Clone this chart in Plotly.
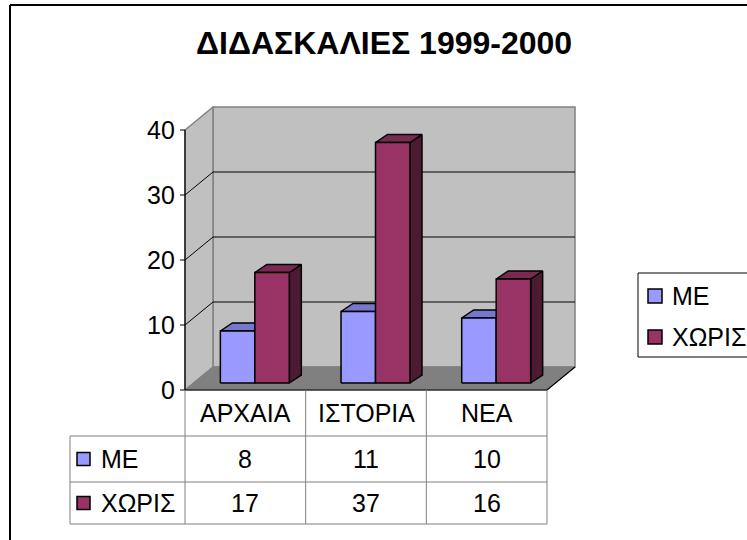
import plotly.graph_objects as go

# ---------------- data ----------------
categories = ["ΑΡΧΑΙΑ", "ΙΣΤΟΡΙΑ", "ΝΕΑ"]
series_names = ["ΜΕ", "ΧΩΡΙΣ"]
me_values = [8, 11, 10]
xoris_values = [17, 37, 16]
y_ticks = [0, 10, 20, 30, 40]
title_text = "ΔΙΔΑΣΚΑΛΙΕΣ 1999-2000"

series_values = [me_values, xoris_values]

# ---------------- styles / geometry ----------------
W, H = 747, 540
FONT = "Liberation Sans, Arial, sans-serif"
FS = 25
AX_LEFT_PX, AX_BOTTOM_PX = 185, 390     # front-plane origin in pixels
CAT_PX = 120.67                          # pixels per category
UNIT_PX = 6.5                            # pixels per value unit
WALL_DX_PX, WALL_DY_PX = 28, 23          # depth of the 3D box
BAR_OFF_DX_PX, BAR_OFF_DY_PX = 9.5, 7    # bars set back from front plane
BAR_DEP_DX_PX, BAR_DEP_DY_PX = 12, 8     # bar depth
GAP = 1.5                                # gap width 150 %

front_colors = ["#9999FF", "#993366"]
top_colors = ["#7777CC", "#7A2952"]
side_colors = ["#5C5C99", "#4D1A33"]
WALL = "#C0C0C0"
FLOOR = "#808080"
EDGE = "#808080"

ncat = len(categories)
ymax = max(y_ticks)

DX = WALL_DX_PX / CAT_PX
DY = WALL_DY_PX / UNIT_PX
BX = BAR_OFF_DX_PX / CAT_PX
BY = BAR_OFF_DY_PX / UNIT_PX
BDX = BAR_DEP_DX_PX / CAT_PX
BDY = BAR_DEP_DY_PX / UNIT_PX


def px2x(px):
    return (px - AX_LEFT_PX) / CAT_PX


def px2y(py):
    return (AX_BOTTOM_PX - py) / UNIT_PX


fig = go.Figure()


def poly(xs, ys, fill, line_color, lw=1.0):
    fig.add_trace(go.Scatter(
        x=list(xs) + [xs[0]], y=list(ys) + [ys[0]], mode="lines",
        fill="toself", fillcolor=fill,
        line=dict(color=line_color, width=lw),
        hoverinfo="skip", showlegend=False))


def line(xs, ys, color, lw=1.0):
    fig.add_trace(go.Scatter(
        x=list(xs), y=list(ys), mode="lines",
        line=dict(color=color, width=lw),
        hoverinfo="skip", showlegend=False))


# walls and floor
poly([DX, ncat + DX, ncat + DX, DX], [DY, DY, ymax + DY, ymax + DY], WALL, EDGE, 1.5)
poly([0, DX, DX, 0], [0, DY, ymax + DY, ymax], WALL, EDGE, 1.5)
poly([0, ncat, ncat + DX, DX], [0, 0, DY, DY], FLOOR, FLOOR, 1)
line([0, ncat, ncat + DX], [0, 0, DY], "black", 1.2)

# gridlines
for t in y_ticks:
    if 0 < t < ymax:
        line([0, DX, ncat + DX], [t, t + DY, t + DY], "black", 1)

# value axis + ticks
line([0, 0], [0, ymax], "black", 1.2)
for t in y_ticks:
    line([-5 / CAT_PX, 0], [t, t], "black", 1)
    fig.add_annotation(x=-8 / CAT_PX, y=t, xref="x", yref="y", text=str(t),
                       showarrow=False, xanchor="right", yanchor="middle",
                       font=dict(family=FONT, size=FS, color="black"))

# bars
bw = 1.0 / (len(series_values) + GAP)
for i in range(ncat):
    start = i + GAP * bw / 2
    for s, vals in enumerate(series_values):
        v = vals[i]
        x0 = start + s * bw + BX
        x1 = x0 + bw
        y0 = BY
        y1 = v + BY
        # side
        poly([x1, x1 + BDX, x1 + BDX, x1], [y0, y0 + BDY, y1 + BDY, y1],
             side_colors[s], "black", 1.5)
        # top
        poly([x0, x1, x1 + BDX, x0 + BDX], [y1, y1, y1 + BDY, y1 + BDY],
             top_colors[s], "black", 1.5)
        # front
        poly([x0, x1, x1, x0], [y0, y0, y1, y1], front_colors[s], "black", 1.5)

# ---------------- data table ----------------
TBL_LEFT_PX = 70
ROW_Y_PX = [390, 436, 482, 524]
TBL_LINE = "#808080"
shapes = []


def pshape(x0, y0, x1, y1, **kw):
    d = dict(type=kw.pop("type", "line"), xref="paper", yref="paper",
             x0=x0 / W, x1=x1 / W, y0=1 - y0 / H, y1=1 - y1 / H)
    d.update(kw)
    shapes.append(d)


def ptext(xp, yp, text, size=FS, xanchor="center", bold=False):
    fig.add_annotation(x=xp / W, y=1 - yp / H, xref="paper", yref="paper",
                       text=("<b>%s</b>" % text) if bold else text,
                       showarrow=False, xanchor=xanchor, yanchor="middle",
                       font=dict(family=FONT, size=size, color="black"))


right_px = AX_LEFT_PX + ncat * CAT_PX
for k in range(ncat + 1):
    xp = AX_LEFT_PX + k * CAT_PX
    pshape(xp, ROW_Y_PX[0], xp, ROW_Y_PX[-1], line=dict(color=TBL_LINE, width=1))
pshape(TBL_LEFT_PX, ROW_Y_PX[1], TBL_LEFT_PX, ROW_Y_PX[-1], line=dict(color=TBL_LINE, width=1))
for yp in ROW_Y_PX[1:]:
    pshape(TBL_LEFT_PX, yp, right_px, yp, line=dict(color=TBL_LINE, width=1))

for i, c in enumerate(categories):
    fig.add_annotation(x=i + 0.5, y=px2y((ROW_Y_PX[0] + ROW_Y_PX[1]) / 2),
                       xref="x", yref="y", text=c, showarrow=False,
                       xanchor="center", yanchor="middle",
                       font=dict(family=FONT, size=FS, color="black"))
for s, vals in enumerate(series_values):
    yc = (ROW_Y_PX[s + 1] + ROW_Y_PX[s + 2]) / 2
    for i, v in enumerate(vals):
        fig.add_annotation(x=i + 0.5, y=px2y(yc), xref="x", yref="y",
                           text=str(v), showarrow=False,
                           xanchor="center", yanchor="middle",
                           font=dict(family=FONT, size=FS, color="black"))
    pshape(77, yc - 6.5, 90, yc + 6.5, type="rect", fillcolor=front_colors[s],
           line=dict(color="black", width=1.5))
    ptext(99, yc, series_names[s], xanchor="left")

# ---------------- legend ----------------
pshape(638, 273, 770, 357, type="rect", line=dict(color="black", width=1))
for s, name in enumerate(series_names):
    yc = 296 + s * 41
    pshape(648, yc - 7, 662, yc + 7, type="rect", fillcolor=front_colors[s],
           line=dict(color="black", width=1.5))
    ptext(670, yc, name, xanchor="left")

# ---------------- outer border + title ----------------
pshape(10, 5, 10, 560, line=dict(color="black", width=2))
pshape(10, 5, 770, 5, line=dict(color="black", width=2))
ptext(384, 43, title_text, size=32, bold=True)

fig.update_layout(
    width=W, height=H, margin=dict(l=0, r=0, t=0, b=0),
    paper_bgcolor="white", plot_bgcolor="white",
    xaxis=dict(visible=False, range=[px2x(0), px2x(W)], fixedrange=True),
    yaxis=dict(visible=False, range=[px2y(H), px2y(0)], fixedrange=True),
    shapes=shapes, showlegend=False,
)

fig.write_html("out.html", config={"displayModeBar": False},
               post_script="document.body.style.margin='0px';")
